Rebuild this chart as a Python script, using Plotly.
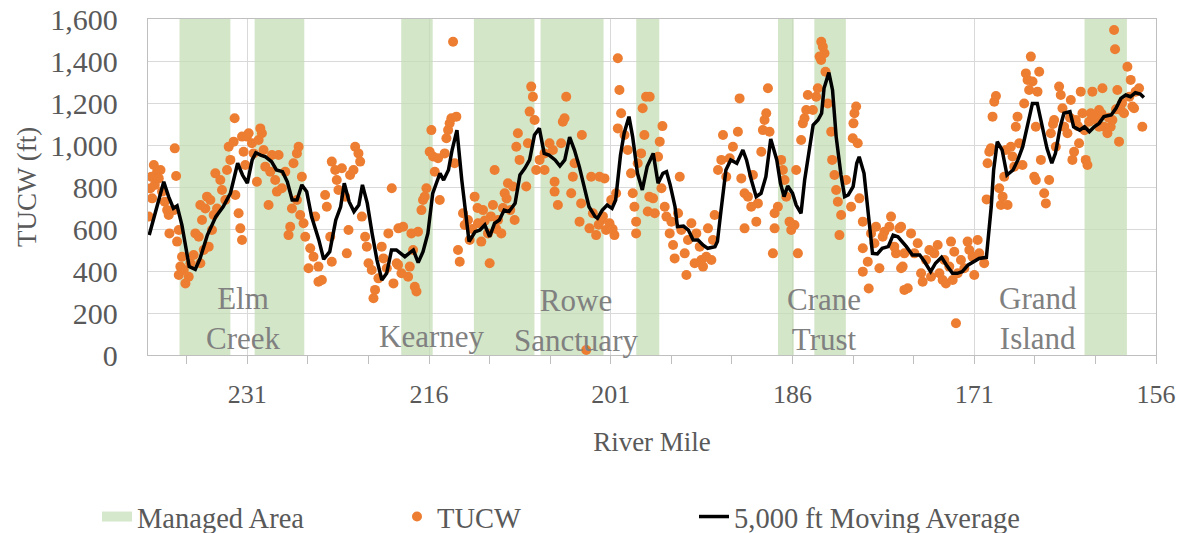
import plotly.graph_objects as go

# ---------------- data ----------------
# Managed areas (river mile start / end)
area_start = [236.6, 230.4, 218.3, 212.3, 206.8, 198.9, 187.2, 184.2, 161.9]
area_end = [232.4, 226.3, 215.7, 207.3, 201.6, 197.0, 185.9, 181.6, 158.4]

# TUCW points
tucw_mile_a = [238.72,238.45,238.92,238.17,239.0,238.64,238.86,238.31,238.04,239.14,237.82,237.62,237.49,237.43,236.99,236.88,236.80,237.07,236.66,236.39,236.53,236.66,236.25,236.11,235.84,235.70,235.43,235.29,235.01,234.88,234.60,234.74,234.47,234.88,234.33,234.05,234.19,233.92,233.78,233.50,233.64,233.23,233.09,232.82,232.68,232.54,232.40,232.13,232.05,231.99,231.72,231.58,231.44,231.31,231.44,231.03,230.89,231.17,230.62,230.48,230.21,230.07,229.80,229.93,229.66,229.52,229.25,229.11,228.97,228.70,228.56,228.42,228.15,227.87,227.60,227.46,227.32,227.19,226.91,226.77,226.91,226.64,226.50,226.36,226.22,225.95,225.81,225.54,225.40,225.13,224.85,225.13,224.58,224.44,224.16,224.03,224.03,223.75,223.62,223.48,223.20,222.93,222.79,222.65,222.52,222.24,222.10,221.83,221.69,221.55,221.28,221.14,221.0,220.73,220.59,220.46,220.18,219.91,219.77,219.49,219.36,219.08,218.94,218.67,218.53]
tucw_ft_a = [905,873,849,881,794,810,746,841,778,659,730,690,667,579,984,852,540,690,595,468,421,381,405,341,373,437,476,579,563,437,500,643,698,714,754,738,516,595,667,698,865,833,786,738,881,992,929,1016,1127,762,675,603,548,968,1040,1040,1056,905,1008,960,825,1024,1056,1079,976,897,714,873,952,833,778,952,794,873,571,611,698,913,960,992,738,667,849,627,563,413,508,468,659,349,357,421,762,706,563,444,921,881,833,786,889,754,484,595,857,881,992,960,921,659,563,516,437,405,270,310,365,516,460,413,579,794,341,437,603]

tucw_mile_b = [218.14,218.56,218.28,217.73,217.46,217.32,217.59,217.18,217.04,216.91,216.63,216.50,216.22,216.36,215.95,215.81,215.67,215.53,215.26,215.12,214.71,214.43,214.30,214.16,214.57,214.02,213.89,213.75,213.61,213.47,213.20,213.06,212.79,212.65,212.24,211.96,211.69,211.55,211.14,211.0,210.73,210.59,210.31,210.04,209.76,209.49,209.08,208.94,208.80,208.67,208.53,207.98,207.84,207.70,207.57,207.43,207.29,207.16,206.88,206.47,206.06,205.78,205.64,205.37,205.10,204.96,204.82,204.68,204.27,204.13,203.99,203.58,203.45,203.03,202.76,202.62,202.48,202.21,201.93,201.80,201.52,201.39,201.11,200.97,200.70,200.56,200.42,200.29,200.42,200.15,199.87,199.60,199.33,199.19,199.05,198.91,198.91,198.78,198.50,198.37,198.23,198.09,197.95,197.82,203.39,205.64,206.47,210.9,210.45,209.9,209.6,209.3,212.0,212.45,211.4,202.0,201.65,200.85]
tucw_ft_b = [611,429,389,373,579,500,421,325,302,587,690,738,794,754,968,1071,945,873,937,738,960,1071,1103,1127,1032,1492,913,1135,500,444,675,619,643,548,754,627,540,690,579,437,714,881,643,579,770,818,802,643,992,1056,929,802,1008,1159,1278,1230,1119,881,929,881,1008,976,778,714,1008,1111,1127,1230,770,849,913,635,722,24,603,849,675,571,849,643,841,595,627,738,571,770,1413,1262,1079,1151,1048,976,865,770,706,635,579,913,960,1175,1048,1230,683,754,1048,825,960,660,600,700,745,690,700,600,640,620,660,600]

tucw_mile_c = [197.79,197.51,197.37,197.10,196.96,196.74,196.82,196.55,196.41,196.14,195.86,195.73,196.0,195.45,195.31,195.18,194.90,194.76,194.63,194.35,194.08,193.94,193.66,193.53,193.39,193.12,192.98,192.70,192.57,192.43,192.15,191.88,191.74,191.47,191.19,190.92,190.51,190.37,190.23,189.96,189.96,189.68,189.41,189.27,188.99,188.86,188.58,188.45,188.31,188.17,188.03,187.90,187.62,187.48,187.48,187.21,186.94,186.80,186.66,186.52,186.25,186.11,185.84,185.70,185.56,185.29,185.15,185.01,184.87,184.74,184.32,184.05,183.91,183.64,183.28,183.09,182.81,182.73,182.54,182.40,182.26,182.13,181.99,181.58,181.17,180.97,180.89,180.75,181.03,180.62,180.48,180.20,180.20,180.20,179.79,179.71,179.52,179.24,179.11,178.83,178.56,178.42,178.01,177.87,177.60,177.46,177.18,177.04,176.77,183.63,183.50,183.77,183.36]
tucw_ft_c = [1230,746,675,944,1016,1090,794,706,659,579,524,460,635,675,849,595,484,381,548,627,437,579,516,452,421,468,603,452,548,667,881,929,1048,849,937,992,1063,1222,841,603,770,754,706,857,635,722,968,1071,1119,1151,1270,1063,484,603,675,706,929,881,833,754,635,595,619,881,484,1024,1103,1127,1167,1238,1167,1230,1270,1405,1349,1198,1063,929,857,786,730,571,667,833,706,1103,1151,1183,1032,1008,746,635,508,397,444,317,579,532,611,413,563,587,611,659,516,484,603,413,310,1492,1468,1421,1437]

tucw_mile_d = [177.04,176.77,176.91,176.49,176.22,175.94,175.67,175.39,175.26,174.98,174.71,174.57,174.30,174.02,173.88,173.61,173.47,173.34,173.06,172.92,172.78,172.65,172.51,172.37,172.10,171.82,171.55,171.41,171.14,171.0,170.72,170.59,170.18,169.98,169.90,169.76,169.49,169.35,169.21,169.63,168.94,168.80,168.66,168.53,168.25,168.39,167.98,167.84,167.70,167.57,167.43,167.29,167.02,166.88,166.74,166.60,166.47,166.33,166.19,166.05,165.92,165.78,165.64,165.50,165.92,165.23,165.09,164.82,164.68,164.41,164.27,164.0,163.86,163.72,163.58,163.31,163.03,162.90,162.76,162.62,162.35,162.21,162.07,161.80,161.66,161.52,161.25,160.97,160.70,160.42,160.29,160.01,159.74,159.46,159.38,159.19,159.05,158.91,158.64,158.36,158.09,157.95,157.81,157.68,157.40,157.13,159.60,160.70,161.38,164.5,163.1,162.45,161.9,161.1,160.5,159.9,159.3,158.8,158.2]
tucw_ft_d = [611,484,421,318,579,484,532,389,349,452,500,373,484,524,389,357,452,341,421,540,357,492,151,389,452,413,540,500,468,381,548,484,437,741,913,968,1135,1206,1233,984,794,714,754,849,714,976,992,945,897,1087,1135,1008,905,1198,1341,1310,1262,1421,1302,849,833,1254,1349,929,1087,770,722,833,1056,1119,992,1278,1238,1175,1087,1056,1214,929,968,1119,1008,1254,1151,929,905,1111,1254,1119,1167,1270,1087,1056,1087,1548,1456,1262,1016,1167,1151,1373,1310,1183,1175,1254,1270,1087,1119,1087,1151,1100,1130,1090,1070,1140,1150,1130,1170,1200,1230]

# 5,000 ft moving average
avg_mile_a = [239.1,237.9,237.5,237.1,236.8,236.4,235.8,235.3,234.9,234.3,233.6,233.0,232.4,231.8,231.4,231.0,230.6,230.3,229.9,229.5,229.0,228.6,228.1,227.7,227.3,226.9,226.5,226.1,225.7,225.1,224.7,224.2,223.7,223.3,223.0,222.6,222.2,221.8,221.5,221.1,220.7,220.3,219.9,219.5,219.1,218.7]
avg_ft_a = [571,825,754,698,710,619,421,408,460,571,659,706,770,913,857,818,929,963,952,944,921,881,873,825,738,738,810,778,659,548,456,492,643,706,818,730,683,714,810,722,579,452,357,389,500,500]
avg_mile_b = [218.0,217.6,217.3,216.9,216.5,216.1,215.7,215.4,215.1,214.8,214.4,214.1,213.7,213.3,212.7,212.2,211.8,211.4,211.0,210.6,210.2,209.8,209.4,208.9,208.5,208.1,207.7,207.3,206.9,206.5,206.1,205.6,205.2,204.8,204.4,204.0,203.6,203.2,202.8,202.3,202.1,201.7,201.3,200.9,200.6,200.2,199.9,199.5,199.2,198.8,198.4,198.0,197.5]
avg_ft_b = [468,484,500,440,492,579,770,818,865,833,881,976,1071,833,540,587,595,619,563,627,643,690,683,722,857,889,929,1048,1079,960,952,929,900,929,1037,976,897,802,706,659,651,690,714,698,738,952,1056,1135,1040,865,786,897,960]
avg_mile_c = [197.1,196.7,196.4,196.1,195.7,195.5,195.0,194.6,194.2,193.8,193.4,193.0,192.4,192.2,191.9,191.5,191.1,190.6,190.1,189.8,189.4,189.0,188.6,188.2,187.8,187.3,187.0,186.7,186.4,186.0,185.7,185.3,185.0,184.6,184.3,183.9,183.6,183.4,183.0,182.7,182.4,182.0,181.7,181.4,181.0,180.7,180.5,180.1,179.8,179.4,179.0,178.6,178.1,177.7,177.3]
avg_ft_c = [818,865,873,810,706,611,614,595,548,548,524,508,516,540,690,881,929,913,976,929,833,754,770,849,1029,929,818,754,805,770,714,675,833,992,1095,1119,1151,1270,1345,1262,1040,857,754,762,802,913,944,865,706,484,481,508,516,571,563]
avg_mile_d = [176.6,176.1,175.5,175.1,174.6,174.2,173.7,173.3,172.8,172.4,172.0,171.5,171.1,170.6,170.0,169.6,169.4,169.1,168.7,168.3,167.8,167.4,167.0,166.6,166.2,165.8,165.4,165.0,164.6,164.3,163.9,163.6,163.1,162.8,162.3,161.9,161.5,161.1,160.7,160.3,159.7,159.3,158.9,158.5,158.1,157.7,157.3,157.0]
avg_ft_d = [516,476,476,444,397,437,465,429,389,389,397,429,444,460,465,706,881,1016,976,857,881,929,992,1103,1198,1198,1087,984,913,960,1087,1151,1159,1087,1071,1087,1063,1087,1103,1135,1143,1175,1222,1238,1230,1249,1243,1226]

# Area labels
label_text = ["Elm<br>Creek", "Kearney", "Rowe<br>Sanctuary", "Crane<br>Trust", "Grand<br>Island"]
label_mile = [231.3, 215.8, 203.9, 183.4, 165.7]
label_ft = [176, 86, 162, 169, 174]

# ---------------- build ----------------
tucw_mile = tucw_mile_a + tucw_mile_b + tucw_mile_c + tucw_mile_d
tucw_ft = tucw_ft_a + tucw_ft_b + tucw_ft_c + tucw_ft_d
avg_mile = avg_mile_a + avg_mile_b + avg_mile_c + avg_mile_d
avg_ft = avg_ft_a + avg_ft_b + avg_ft_c + avg_ft_d
assert len(tucw_mile) == len(tucw_ft), (len(tucw_mile), len(tucw_ft))
assert len(avg_mile) == len(avg_ft), (len(avg_mile), len(avg_ft))

FONT = "Liberation Serif, Times New Roman, serif"
TXT = "#595959"
GREEN = "rgb(197,222,182)"
ORANGE = "#ED7D31"

area_center = [(s + e) / 2 for s, e in zip(area_start, area_end)]
area_width = [s - e for s, e in zip(area_start, area_end)]

fig = go.Figure()
fig.add_trace(go.Bar(
    x=area_center, y=[1600] * len(area_center), width=area_width, base=0,
    marker=dict(color=GREEN, line=dict(width=0)), opacity=0.75,
    showlegend=False, hoverinfo="skip"))
# legend entry for managed area
fig.add_trace(go.Scatter(
    x=[None], y=[None], mode="lines", name="Managed Area",
    line=dict(color="rgb(213,232,203)", width=16), legend="legend"))
fig.add_trace(go.Scatter(
    x=tucw_mile, y=tucw_ft, mode="markers", name="TUCW",
    marker=dict(color=ORANGE, size=10, line=dict(width=0)), legend="legend2"))
fig.add_trace(go.Scatter(
    x=avg_mile, y=avg_ft, mode="lines", name="5,000 ft Moving Average",
    line=dict(color="black", width=3.5), legend="legend3"))

for t, m, v in zip(label_text, label_mile, label_ft):
    fig.add_annotation(x=m, y=v, text=t, showarrow=False, xanchor="center",
                       yanchor="middle", font=dict(family=FONT, size=31, color="#808080"))

leg_common = dict(orientation="h", yanchor="middle", xanchor="left",
                  xref="container", yref="container", y=0.03,
                  font=dict(family=FONT, size=28.5, color=TXT),
                  bgcolor="rgba(0,0,0,0)", borderwidth=0)

fig.update_layout(
    width=1186, height=533,
    margin=dict(l=148, r=30, t=19, b=178, autoexpand=False),
    paper_bgcolor="white", plot_bgcolor="white",
    font=dict(family=FONT, color=TXT, size=26),
    barmode="overlay",
    legend=dict(x=97 / 1186, **leg_common),
    legend2=dict(x=397 / 1186, **leg_common),
    legend3=dict(x=694 / 1186, **leg_common),
    xaxis=dict(
        range=[239.2, 156], tickmode="linear", tick0=156, dtick=15,
        showgrid=True, gridcolor="#d9d9d9", gridwidth=1.3,
        showline=True, linecolor="#bfbfbf", linewidth=1.3, mirror=True,
        ticks="outside", ticklen=8, tickcolor="#bfbfbf",
        minor=dict(dtick=5, tick0=156, ticks="outside", ticklen=8,
                   tickcolor="#bfbfbf", showgrid=False),
        tickfont=dict(family=FONT, size=26, color=TXT),
        ticklabelstandoff=8,
        title=dict(text="River Mile", font=dict(family=FONT, size=27, color=TXT), standoff=23),
        zeroline=False,
    ),
    yaxis=dict(
        range=[0, 1600], dtick=200, tickformat=",",
        showgrid=True, gridcolor="#d9d9d9", gridwidth=1.3,
        showline=True, linecolor="#bfbfbf", linewidth=1.3, mirror=True,
        ticks="", tickfont=dict(family=FONT, size=30, color=TXT),
        ticklabelstandoff=23,
        title=dict(text="TUCW (ft)", font=dict(family=FONT, size=27, color=TXT), standoff=5),
        zeroline=False,
    ),
)

fig.write_html("out.html", config={"displayModeBar": False},
               post_script="document.body.style.margin='0';document.body.style.overflow='hidden';")
